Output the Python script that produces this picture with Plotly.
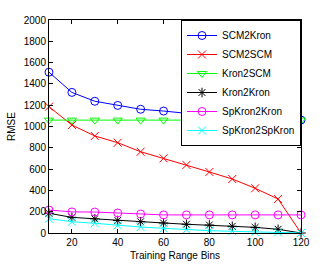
import plotly.graph_objects as go

bins = [10, 20, 30, 40, 50, 60, 70, 80, 90, 100, 110, 120]
scm2kron = [1510, 1320, 1237, 1198, 1162, 1145, 1124, 1111, 1095, 1083, 1073, 1061]
scm2scm = [1186, 1014, 911, 848, 763, 701, 639, 573, 507, 420, 319, 0]
kron2scm = [1060, 1060, 1060, 1060, 1060, 1060, 1060, 1060, 1060, 1060, 1060, 1060]
kron2kron = [185, 147, 133, 118, 106, 94, 82, 75, 63, 53, 35, 0]
spkron2kron = [216, 198, 197, 188, 178, 170, 170, 170, 170, 170, 170, 170]
spkron2spkron = [134, 106, 91, 72, 56, 44, 31, 22, 16, 9, 6, 0]

series = [
    ("SCM2Kron", scm2kron, "#0000FF", "circle-open"),
    ("SCM2SCM", scm2scm, "#FF0000", "x-thin-open"),
    ("Kron2SCM", kron2scm, "#00FF00", "triangle-down-open"),
    ("Kron2Kron", kron2kron, "#000000", "asterisk-open"),
    ("SpKron2Kron", spkron2kron, "#FF00FF", "circle-open"),
    ("SpKron2SpKron", spkron2spkron, "#00FFFF", "x-thin-open"),
]

fig = go.Figure()
for name, vals, color, sym in series:
    fig.add_trace(go.Scatter(
        x=bins, y=vals, name=name, mode="lines+markers",
        line=dict(color=color, width=1),
        marker=dict(symbol=sym, size=8, color=color, line=dict(color=color, width=1)),
        cliponaxis=False,
    ))

font_family = "Liberation Sans, Arial"
axis_common = dict(
    showline=True, linecolor="black", linewidth=1, mirror="ticks",
    ticks="inside", ticklen=4, tickcolor="black", showgrid=False, zeroline=False,
    tickfont=dict(family=font_family, size=10, color="black"),
    automargin=False,
)

fig.update_layout(
    width=331, height=266,
    margin=dict(l=49, r=30, t=20, b=33),
    paper_bgcolor="white", plot_bgcolor="white",
    font=dict(family=font_family, size=10, color="black"),
    xaxis=dict(range=[10, 120], tickvals=[20, 40, 60, 80, 100, 120],
               title=dict(text="Training Range Bins", standoff=4,
                          font=dict(family=font_family, size=10)),
               **axis_common),
    yaxis=dict(range=[0, 2000], tickvals=list(range(0, 2001, 200)),
               title=dict(text="RMSE", standoff=6,
                          font=dict(family=font_family, size=10)),
               **axis_common),
    legend=dict(x=1, y=1, xanchor="right", yanchor="top",
                bordercolor="black", borderwidth=1, bgcolor="white",
                font=dict(family=font_family, size=10),
                itemwidth=30, tracegroupgap=0),
    showlegend=True,
)

fig.write_html("out.html", config={"displayModeBar": False},
               post_script="document.body.style.margin='0';")
